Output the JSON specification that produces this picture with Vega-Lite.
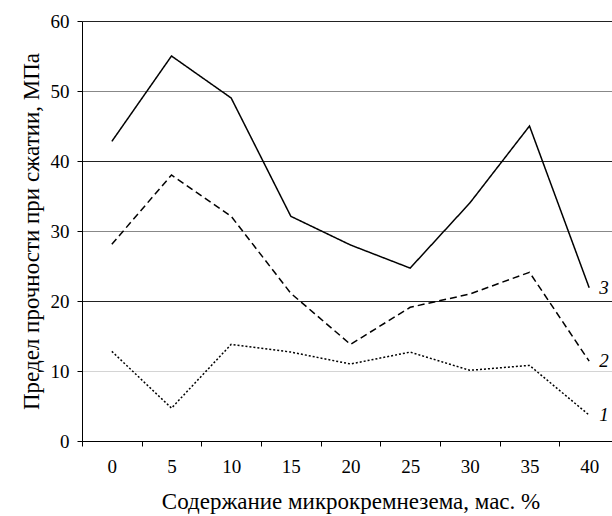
{
  "$schema": "https://vega.github.io/schema/vega-lite/v6.json",
  "autosize": "none",
  "width": 530,
  "height": 420,
  "padding": {"left": 82, "top": 21, "right": 0, "bottom": 75},
  "background": "white",
  "config": {"view": {"stroke": null}, "font": "Liberation Serif, serif"},
  "data": {"values": [
    {"x": "0", "s": "3", "v": 42.8}, {"x": "5", "s": "3", "v": 55}, {"x": "10", "s": "3", "v": 49}, {"x": "15", "s": "3", "v": 32.1}, {"x": "20", "s": "3", "v": 28}, {"x": "25", "s": "3", "v": 24.7}, {"x": "30", "s": "3", "v": 34}, {"x": "35", "s": "3", "v": 45}, {"x": "40", "s": "3", "v": 21.9},
    {"x": "0", "s": "2", "v": 28.1}, {"x": "5", "s": "2", "v": 38}, {"x": "10", "s": "2", "v": 32.1}, {"x": "15", "s": "2", "v": 21.1}, {"x": "20", "s": "2", "v": 13.8}, {"x": "25", "s": "2", "v": 19.1}, {"x": "30", "s": "2", "v": 21}, {"x": "35", "s": "2", "v": 24.1}, {"x": "40", "s": "2", "v": 11.4},
    {"x": "0", "s": "1", "v": 12.8}, {"x": "5", "s": "1", "v": 4.7}, {"x": "10", "s": "1", "v": 13.8}, {"x": "15", "s": "1", "v": 12.7}, {"x": "20", "s": "1", "v": 11}, {"x": "25", "s": "1", "v": 12.7}, {"x": "30", "s": "1", "v": 10.1}, {"x": "35", "s": "1", "v": 10.8}, {"x": "40", "s": "1", "v": 3.7}
  ]},
  "encoding": {
    "x": {"field": "x", "type": "ordinal", "sort": null,
      "scale": {"range": [0, 537], "paddingInner": 0, "paddingOuter": 0},
      "axis": {"title": "Содержание микрокремнезема, мас. %", "labelAngle": 0, "tickBand": "extent", "grid": false,
        "domainColor": "black", "tickColor": "black", "tickSize": 5, "labelPadding": 11,
        "labelFontSize": 19, "labelColor": "black",
        "titleFontSize": 23, "titleFontWeight": "normal", "titleColor": "black", "titlePadding": 14}},
    "y": {"field": "v", "type": "quantitative",
      "scale": {"domain": [0, 60], "nice": false},
      "axis": {"title": "Предел прочности при сжатии, МПа", "values": [0, 10, 20, 30, 40, 50, 60],
        "grid": true,
        "gridColor": {"condition": [{"test": "datum.value === 10", "value": "#d4d4d4"}, {"test": "datum.value === 30 || datum.value === 50", "value": "#888888"}], "value": "#222222"},
        "gridWidth": 1.2,
        "domainColor": "black", "tickColor": "black", "tickSize": 5, "labelPadding": 8,
        "labelFontSize": 19, "labelColor": "black",
        "titleFontSize": 23, "titleFontWeight": "normal", "titleColor": "black", "titlePadding": 7}}
  },
  "layer": [
    {"mark": {"type": "line", "color": "black", "strokeWidth": 1.5},
     "encoding": {"strokeDash": {"field": "s", "type": "nominal", "scale": {"domain": ["1", "2", "3"], "range": [[2, 2], [7, 4], [1, 0]]}, "legend": null}}},
    {"transform": [{"filter": "datum.x === '40'"}],
     "mark": {"type": "text", "align": "left", "baseline": "middle", "dx": 10, "fontStyle": "italic", "fontSize": 19, "color": "black"},
     "encoding": {"text": {"field": "s"}}}
  ]
}
